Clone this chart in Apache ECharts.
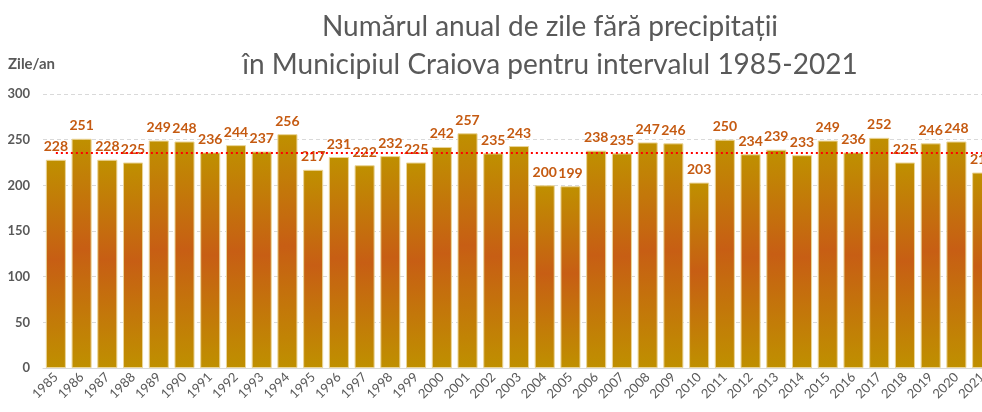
<!DOCTYPE html>
<html>
<head>
<meta charset="utf-8">
<script src="https://cdn.jsdelivr.net/npm/echarts@6/dist/echarts.min.js"></script>
<style>
  html, body { margin: 0; padding: 0; background: #fff; overflow: hidden; width: 982px; height: 412px; }
  #chart { width: 995px; height: 412px; }
</style>
</head>
<body>
<div id="chart"></div>
<script>
// Years 1985-2021
const years = ['1985','1986','1987','1988','1989','1990','1991','1992','1993','1994',
  '1995','1996','1997','1998','1999','2000','2001','2002','2003','2004',
  '2005','2006','2007','2008','2009','2010','2011','2012','2013','2014',
  '2015','2016','2017','2018','2019','2020','2021'];

// Days without precipitation per year
const dryDays = [228, 251, 228, 225, 249, 248, 236, 244, 237, 256,
  217, 231, 222, 232, 225, 242, 257, 235, 243, 200,
  199, 238, 235, 247, 246, 203, 250, 234, 239, 233,
  249, 236, 252, 225, 246, 248, 214];

const titleLines = ['Numărul anual de zile fără precipitații',
  'în Municipiul Craiova pentru intervalul 1985-2021'];
const yAxisName = 'Zile/an';

// Multi-year mean drawn as a dotted reference line
const mean = dryDays.reduce((a, b) => a + b, 0) / dryDays.length;

const FONT = 'Lato, "Open Sans", sans-serif';
const GREY = '#595959';

const chart = echarts.init(document.getElementById('chart'));
chart.setOption({
  animation: false,
  textStyle: { fontFamily: FONT },
  grid: { left: 43, right: 0, top: 94, bottom: 44, containLabel: false },
  graphic: [
    {
      type: 'text', x: 550, y: 8,
      style: {
        text: titleLines.join('\n'),
        font: 'normal 28px ' + FONT, fill: GREY, align: 'center',
        lineHeight: 38
      }
    },
    {
      type: 'text', x: 8, y: 57,
      style: { text: yAxisName, font: 'bold 15px ' + FONT, fill: GREY }
    }
  ],
  xAxis: {
    type: 'category',
    data: years,
    axisTick: { show: false },
    axisLine: { lineStyle: { color: '#d9d9d9', width: 1 } },
    axisLabel: { rotate: 45, color: GREY, fontSize: 13, margin: 7, interval: 0 }
  },
  yAxis: {
    type: 'value',
    min: 0, max: 300, interval: 50,
    axisLine: { show: false },
    axisTick: { show: false },
    axisLabel: { color: GREY, fontSize: 13, fontWeight: 'bold', margin: 13 },
    splitLine: { lineStyle: { color: '#d9d9d9', type: [4, 3], width: 1 } }
  },
  series: [{
    type: 'bar',
    data: dryDays,
    barCategoryGap: '22%',
    itemStyle: {
      color: new echarts.graphic.LinearGradient(0, 0, 0, 1, [
        { offset: 0, color: '#BF9000' },
        { offset: 0.48, color: '#C75E14' },
        { offset: 1, color: '#BF9000' }
      ]),
      borderColor: '#EBD598',
      borderWidth: 1
    },
    label: {
      show: true, position: 'top', distance: 6,
      color: '#C55A11', fontWeight: 'bold', fontSize: 14
    },
    markLine: {
      symbol: 'none',
      silent: true,
      label: { show: false },
      lineStyle: { color: '#FF0000', type: [2, 3], width: 2 },
      data: [[
        { coord: [years[0], mean] },
        { coord: [years[years.length - 1], mean] }
      ]]
    }
  }]
});
</script>
</body>
</html>
